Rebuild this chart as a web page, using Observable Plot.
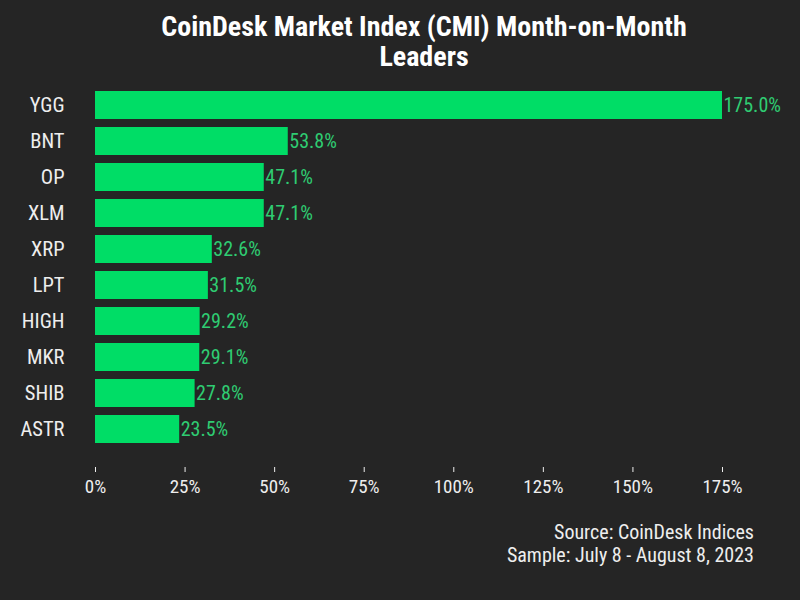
<!DOCTYPE html>
<html>
<head>
<meta charset="utf-8">
<script src="https://cdn.jsdelivr.net/npm/d3@7"></script>
<script src="https://cdn.jsdelivr.net/npm/@observablehq/plot@0.6"></script>
<style>
  html, body { margin: 0; padding: 0; background: #252525; }
  body { width: 800px; height: 600px; position: relative; overflow: hidden;
         font-family: "Roboto Condensed", "Liberation Sans Narrow", "Liberation Sans", Arial, sans-serif; }
  #title { height: 80px; box-sizing: border-box; padding-top: 12px; padding-left: 48px; text-align: center;
           color: #ffffff; font-weight: bold; font-size: 28px; line-height: 30px; }
  #chart { height: 420px; }
  #caption { position: absolute; right: 46px; top: 521px; text-align: right; color: #eeeeee;
             font-size: 20px; line-height: 23px; }
</style>
</head>
<body>
<div id="title">CoinDesk Market Index (CMI) Month-on-Month<br>Leaders</div>
<div id="chart"></div>
<div id="caption">Source: CoinDesk Indices<br>Sample: July 8 - August 8, 2023</div>
<script>
const tickers = ["YGG", "BNT", "OP", "XLM", "XRP", "LPT", "HIGH", "MKR", "SHIB", "ASTR"];
const changes = [175.0, 53.8, 47.1, 47.1, 32.6, 31.5, 29.2, 29.1, 27.8, 23.5];
const xTicks = [0, 25, 50, 75, 100, 125, 150, 175];

const data = tickers.map((t, i) => ({ticker: t, value: changes[i]}));
const font = '"Roboto Condensed", "Liberation Sans Narrow", "Liberation Sans", Arial, sans-serif';

const chart = Plot.plot({
  width: 800,
  height: 420,
  marginLeft: 95,
  marginRight: 78,
  marginTop: 0,
  marginBottom: 33,
  style: { background: "#252525", color: "#eeeeee", fontFamily: font, fontSize: "20px" },
  x: { domain: [0, 175], axis: null },
  y: { domain: tickers, range: [1, 373], padding: 0.22, axis: null },
  marks: [
    Plot.barX(data, { x: "value", y: "ticker", fill: "#00dd66" }),
    Plot.text(data, { x: "value", y: "ticker", text: d => d.value.toFixed(1) + "%",
      textAnchor: "start", dx: 1, fill: "#2fcc72", fontSize: 20 }),
    Plot.axisY({ tickSize: 0, tickPadding: 31, fontSize: 20.5, color: "#eeeeee", label: null }),
    Plot.axisX({ ticks: xTicks, tickFormat: d => d + "%", tickSize: 5, tickPadding: 7,
      fontSize: 19, color: "#eeeeee", label: null })
  ]
});
document.getElementById("chart").appendChild(chart);
</script>
</body>
</html>
